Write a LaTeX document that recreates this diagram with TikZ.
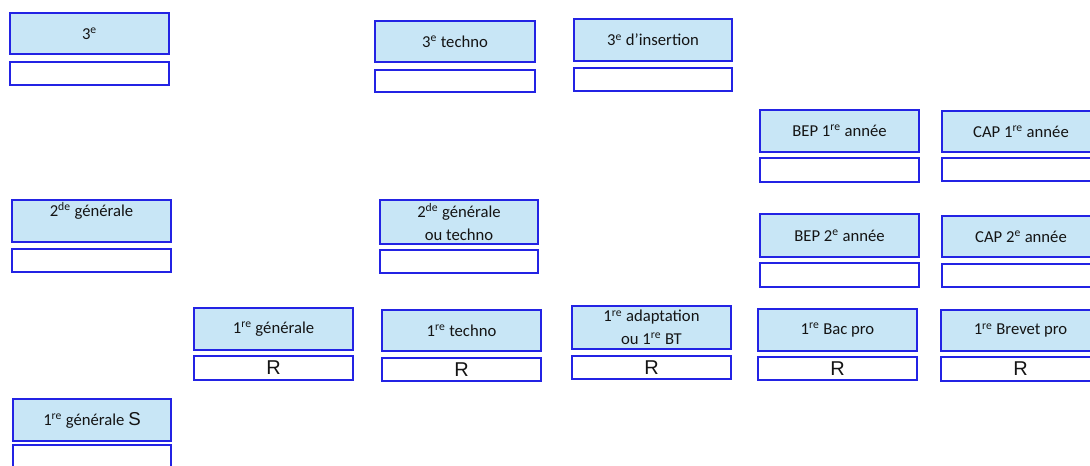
\documentclass[tikz,border=0pt]{standalone}
\usepackage{fontspec}
\setmainfont{Carlito}
\newfontfamily\arialf{Liberation Sans}
\definecolor{bblue}{RGB}{35,35,228}
\definecolor{bfill}{RGB}{200,230,246}
\definecolor{txt}{RGB}{20,20,20}
\tikzset{
  topbox/.style={draw=bblue, fill=bfill, line width=1.5pt, inner sep=0pt, align=center,
    text=txt, font=\fontsize{12.5}{17}\selectfont},
  botbox/.style={draw=bblue, fill=white, line width=1.5pt, inner sep=0pt, align=center,
    text=txt, font=\arialf\fontsize{15}{16}\selectfont},
}
\newcommand\pairbox[9]{%
  \node[topbox, minimum width={(#3-#2-2)*0.75pt}, minimum height={(#5-#4-2)*0.75pt}]
    (#1) at ({(#2+#3)/2},{(#4+#5)/2}) {#8};
  \node[botbox, minimum width={(#3-#2-2)*0.75pt}, minimum height={(#7-#6-2)*0.75pt}]
    (#1-r) at ({(#2+#3)/2},{(#6+#7)/2}) {#9};
}
\begin{document}
\begin{tikzpicture}[x=0.75pt,y=-0.75pt]
\useasboundingbox (0,0) rectangle (1090,466);
\clip (0,0) rectangle (1090,466);
\pairbox{troisieme}{9}{170}{12}{55}{61}{86}{3\textsuperscript{e}}{}
\pairbox{troistechno}{374}{536}{20}{63}{69}{93}{3\textsuperscript{e} techno}{}
\pairbox{troisinsert}{573}{733}{18}{62}{67}{92}{3\textsuperscript{e} d'insertion}{}
\pairbox{bepun}{759}{920}{109}{153}{157}{183}{BEP 1\textsuperscript{re} année}{}
\pairbox{capun}{941}{1101}{110}{153}{157}{182}{CAP 1\textsuperscript{re} année}{}
\pairbox{secgen}{11}{172}{199}{243}{248}{273}{2\textsuperscript{de} générale\\ \mbox{}}{}
\pairbox{secgentech}{379}{539}{199}{245}{249}{274}{2\textsuperscript{de} générale\\ ou techno}{}
\pairbox{bepdeux}{759}{920}{213}{258}{262}{288}{BEP 2\textsuperscript{e} année}{}
\pairbox{capdeux}{941}{1101}{215}{258}{263}{288}{CAP 2\textsuperscript{e} année}{}
\pairbox{premgen}{193}{354}{307}{351}{355}{381}{1\textsuperscript{re} générale}{R}
\pairbox{premtech}{381}{542}{309}{352}{357}{382}{1\textsuperscript{re} techno}{R}
\pairbox{premadapt}{571}{732}{305}{350}{355}{380}{1\textsuperscript{re} adaptation\\ ou 1\textsuperscript{re} BT}{R}
\pairbox{bacpro}{757}{918}{308}{352}{356}{381}{1\textsuperscript{re} Bac pro}{R}
\pairbox{brevetpro}{940}{1101}{309}{352}{356}{382}{1\textsuperscript{re} Brevet pro}{R}
\pairbox{premgenS}{12}{172}{398}{442}{444}{472}{1\textsuperscript{re} générale {\arialf\fontsize{14}{16}\selectfont S}}{}
\end{tikzpicture}
\end{document}
